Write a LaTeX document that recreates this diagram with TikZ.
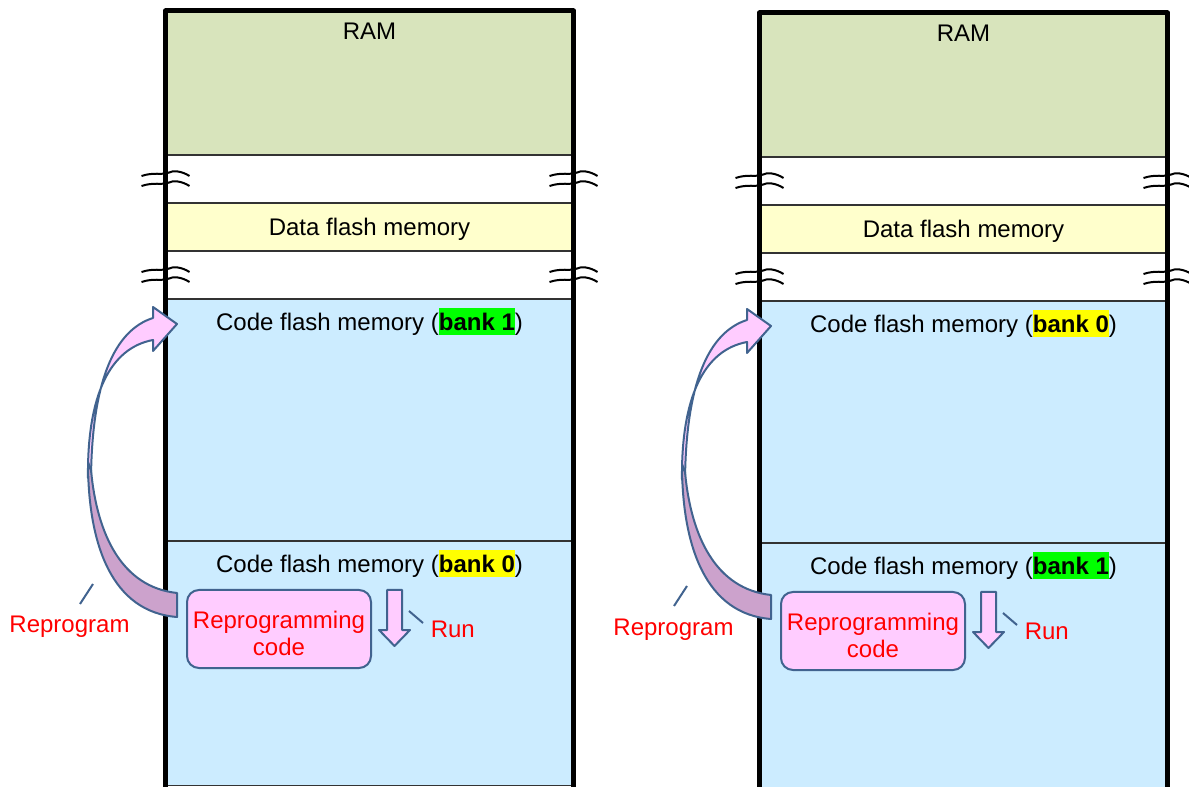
\documentclass[tikz,border=0pt]{standalone}
\usepackage{fontspec}
\setmainfont{Liberation Sans}
\usetikzlibrary{positioning}

\definecolor{ramfill}{HTML}{D8E4BC}
\definecolor{datafill}{HTML}{FFFFCC}
\definecolor{codefill}{HTML}{CCECFF}
\definecolor{progfill}{HTML}{FFCCFF}
\definecolor{backfill}{HTML}{CCA2CC}
\definecolor{edgeblue}{HTML}{41638F}
\definecolor{bankgreen}{HTML}{00FF00}
\definecolor{bankyellow}{HTML}{FFFF00}

\newcommand{\bankbox}[2]{{\setlength{\fboxsep}{0pt}\colorbox{#1}{\rule[-3.3pt]{0pt}{20.6pt}\bfseries #2}}}

\tikzset{
  brk/.pic={\draw[line width=1.5pt] (-24,2) .. controls (-12,-2) and (-4,1) .. (2,-1) .. controls (8,-4) and (16,-3) .. (24,2);}
}

\begin{document}
\begin{tikzpicture}[x=0.75pt, y=-0.75pt,
  band/.style={draw=black!80, line width=0.9pt},
  frame/.style={draw=black, line width=3.75pt, line join=round},
  lbl/.style={anchor=base, inner sep=0, font=\fontsize{18}{21.6}\selectfont},
  redlbl/.style={lbl, text=red},
  prog/.style={draw=edgeblue, line width=1.5pt, fill=progfill, rounded corners=9pt, minimum width=138pt, minimum height=58.5pt, align=center, text=red, inner sep=0, font=\fontsize{18}{20.25}\selectfont},
  blockarrow/.style={draw=edgeblue, line width=1.5pt, line join=round},
  leader/.style={draw=edgeblue, line width=1.5pt}]
  \useasboundingbox (0,0) rectangle (1189,787);

  \foreach \sx/\sy/\ub/\uc/\lb/\lc/\rx [count=\i] in {0/0/1/bankgreen/0/bankyellow/69.5, 594/2/0/bankyellow/1/bankgreen/79.5}{
    \begin{scope}[shift={(\sx,\sy)}]
      % Speicherbereiche
      \draw[band, fill=ramfill] (165.5,11) rectangle (573.5,155);
      \draw[band, fill=white] (165.5,155) rectangle (573.5,203);
      \draw[band, fill=datafill] (165.5,203) rectangle (573.5,251);
      \draw[band, fill=white] (165.5,251) rectangle (573.5,299);
      \draw[band, fill=codefill] (165.5,299) rectangle (573.5,541);
      \draw[band, fill=codefill] (165.5,541) rectangle (573.5,785.5);
      \draw[frame] (165.5,790) -- (165.5,11) -- (573.5,11) -- (573.5,790);

      % Unterbrechungen
      \foreach \by in {174,184,270,280} {
        \pic at (165.5,\by) {brk};
        \pic at (573.5,\by) {brk};
      }

      \node[lbl] (ram\i) at (369.5,40) {RAM};
      \node[lbl] (data\i) at (369.5,236) {Data flash memory};
      \node[lbl] (upper\i) at (369.5,331) {Code flash memory (\bankbox{\uc}{bank \ub})};
      \node[lbl] (lower\i) at (369.5,573) {Code flash memory (\bankbox{\lc}{bank \lb})};

      \node[prog] (prog\i) at (279,629) {\rule{0pt}{20pt}Reprogramming\\code};

      % Run-Pfeil
      \draw[blockarrow, fill=progfill] (387,590) -- (402,590) -- (402,630) -- (410,630) -- (394.5,646) -- (379,630) -- (387,630) -- cycle;
      \node[redlbl, anchor=base west] (run\i) at (430.5,637) {Run};
      \coordinate (runa\i) at (409,611);
      \coordinate (runb\i) at (423,623);
      \draw[leader] (runa\i) -- (runb\i);

      % Reprogram-Pfeil
      \draw[blockarrow, fill=progfill] (88,478) .. controls (87,395) and (110,348) .. (153,340) -- (153,351) -- (177,324) -- (153,307) -- (153,318) .. controls (115,330) and (92,380) .. (91,478) -- cycle;
      \draw[blockarrow, fill=backfill] (88,462) .. controls (88,545) and (112,612) .. (177,617) -- (177,593) .. controls (122,587) and (97,535) .. (91,470) -- cycle;
      \node[redlbl] (repro\i) at (\rx,633) {Reprogram};
      \coordinate (repa\i) at (80,604);
      \coordinate (repb\i) at (93,584);
      \draw[leader] (repa\i) -- (repb\i);
    \end{scope}
  }
\end{tikzpicture}
\end{document}
